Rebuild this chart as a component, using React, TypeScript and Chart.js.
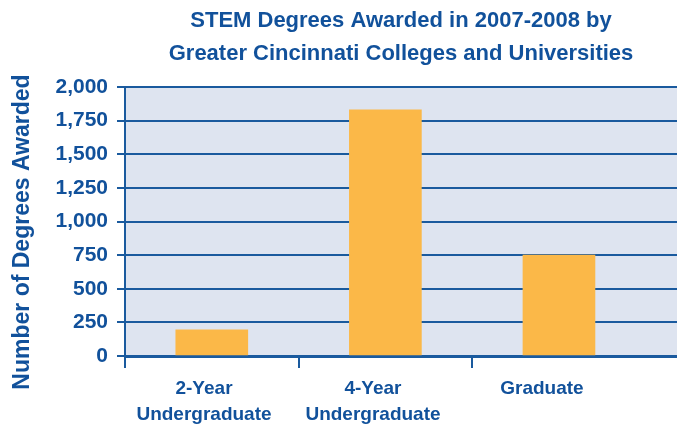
import React, { useEffect, useRef } from "react";
import { Chart, registerables } from "chart.js";

Chart.register(...registerables);

const titleLines = ["STEM Degrees Awarded in 2007-2008 by", "Greater Cincinnati Colleges and Universities"];
const yAxisTitle = "Number of Degrees Awarded";
const categories = [["2-Year", "Undergraduate"], ["4-Year", "Undergraduate"], ["Graduate"]];
const degrees = [195, 1830, 750];
const yTicks = [0, 250, 500, 750, 1000, 1250, 1500, 1750, 2000];

const BLUE = "#11519b";
const GRID = "#1a5a9e";
const PLOT_BG = "#dee4f0";
const BAR = "#fbb848";
const FONT = "'Liberation Sans', Arial, Helvetica, sans-serif";

export default function App() {
  const ref = useRef<HTMLCanvasElement | null>(null);

  useEffect(() => {
    if (!ref.current) return;
    const bgPlugin = {
      id: "plotBg",
      beforeDraw(chart: any) {
        const { ctx, chartArea } = chart;
        ctx.save();
        ctx.fillStyle = PLOT_BG;
        ctx.fillRect(chartArea.left, chartArea.top, chartArea.right - chartArea.left, chartArea.bottom - chartArea.top);
        ctx.restore();
      },
    };
    const yTitlePlugin = {
      id: "yTitle",
      afterDraw(chart: any) {
        const { ctx } = chart;
        ctx.save();
        ctx.translate(23, 232);
        ctx.rotate(-Math.PI / 2);
        ctx.font = `bold 23px ${FONT}`;
        ctx.fillStyle = BLUE;
        ctx.textAlign = "center";
        ctx.textBaseline = "middle";
        ctx.fillText(yAxisTitle, 0, 0);
        ctx.restore();
      },
    };

    const chart = new Chart(ref.current, {
      type: "bar",
      data: {
        datasets: [
          {
            data: degrees.map((v, i) => ({ x: i, y: v })),
            backgroundColor: BAR,
            borderWidth: 0,
            barThickness: 72,
            xAxisID: "x",
            yAxisID: "y",
          },
        ],
      },
      options: {
        responsive: false,
        animation: false,
        layout: { padding: { left: 0, right: 0, top: 0, bottom: 0 } },
        plugins: {
          legend: { display: false },
          tooltip: { enabled: false },
          title: {
            display: true,
            fullSize: false,
            text: titleLines,
            color: BLUE,
            font: { family: FONT, size: 22, weight: "bold", lineHeight: 1.5 },
            padding: { top: 4.5, bottom: 16.5 },
          },
        },
        scales: {
          x: {
            type: "linear",
            position: "bottom",
            offset: false,
            min: -0.5,
            max: 2.68,
            afterBuildTicks: (s: any) => {
              s.ticks = [-0.5, 0.5, 1.5].map((v) => ({ value: v }));
            },
            afterFit: (s: any) => {
              s.height = 12;
            },
            ticks: { display: false },
            grid: { display: true, offset: false, drawOnChartArea: false, drawTicks: true, tickLength: 12, color: GRID, lineWidth: 2 },
            border: { display: true, color: GRID, width: 3 },
          },
          x2: {
            type: "linear",
            position: "bottom",
            offset: false,
            min: -0.4675,
            max: 2.799,
            afterBuildTicks: (s: any) => {
              s.ticks = categories.map((_, i) => ({ value: i }));
            },
            afterFit: (s: any) => {
              s.height = 59;
            },
            ticks: {
              autoSkip: false,
              maxRotation: 0,
              padding: 0,
              color: BLUE,
              font: { family: FONT, size: 19, weight: "bold", lineHeight: 1.35 },
              callback: (v: any) => categories[Math.round(Number(v))] as any,
            },
            grid: { display: false, offset: false },
            border: { display: false },
          },
          y: {
            type: "linear",
            min: 0,
            max: 2000,
            afterBuildTicks: (s: any) => {
              s.ticks = yTicks.map((v) => ({ value: v }));
            },
            afterFit: (s: any) => {
              s.width = 125;
            },
            ticks: {
              padding: 9,
              color: BLUE,
              font: { family: FONT, size: 21, weight: "bold" },
              callback: (v: any) => Number(v).toLocaleString("en-US"),
            },
            grid: { color: GRID, lineWidth: 2, tickLength: 8, drawTicks: true },
            border: { display: true, color: GRID, width: 2 },
          },
        },
      },
      plugins: [bgPlugin, yTitlePlugin],
    } as any);
    return () => chart.destroy();
  }, []);

  return (
    <div style={{ position: "absolute", left: 0, top: 0, width: 677, height: 427, background: "#ffffff" }}>
      <canvas ref={ref} width={677} height={427} style={{ display: "block" }} />
    </div>
  );
}
